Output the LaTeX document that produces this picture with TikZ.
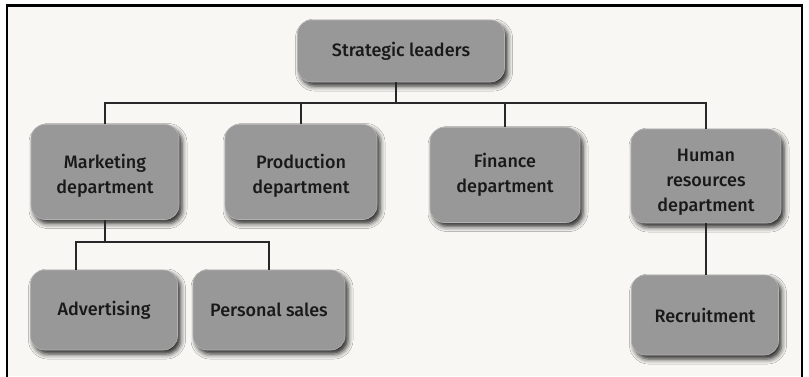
\documentclass[tikz,border=0pt]{standalone}
\usepackage{fontspec}
\setmainfont{Fira Sans}[UprightFont={* Medium}]
\usetikzlibrary{shadows.blur}
\definecolor{boxgray}{RGB}{152,152,152}
\definecolor{paper}{RGB}{248,247,243}
\definecolor{ink}{RGB}{25,25,25}
\definecolor{wire}{RGB}{40,40,40}
\tikzset{
  orgbox/.style={rounded corners=14pt, fill=boxgray, draw=boxgray!75!white, line width=0.6pt,
    blur shadow={shadow xshift=3pt, shadow yshift=-4pt, shadow blur radius=5pt, shadow opacity=85},
    text=ink, align=center, font=\fontsize{18}{25}\selectfont, inner sep=0pt},
  conn/.style={draw=wire, line width=1.1pt}
}
\begin{document}
\begin{tikzpicture}[x=1pt,y=-1pt]
\useasboundingbox (0,0) rectangle (809,376);
\fill[white] (0,0) rectangle (809,376);
\fill[paper] (8,6) rectangle (802,376);
\draw[black, line width=2.2pt] (7,378) -- (7,5.5) -- (802,5.5) -- (802,378);

\node[orgbox, minimum width=207pt, minimum height=62pt] (SL) at (401,51) {Strategic leaders};
\node[orgbox, minimum width=148pt, minimum height=95pt] (MK) at (105,172) {\rule{0pt}{22pt}Marketing\\department};
\node[orgbox, minimum width=152pt, minimum height=95pt] (PR) at (301,172) {\rule{0pt}{22pt}Production\\department};
\node[orgbox, minimum width=150pt, minimum height=95pt] (FI) at (505,175) {Finance\\department};
\node[orgbox, minimum width=150pt, minimum height=94pt] (HR) at (706,176) {\rule{0pt}{24pt}Human\\resources\\department};
\node[orgbox, minimum width=147pt, minimum height=80pt] (AD) at (104,310) {Advertising};
\node[orgbox, minimum width=152pt, minimum height=80pt] (PS) at (269,310) {Personal sales};
\node[orgbox, minimum width=147pt, minimum height=80pt] (RE) at (705,315) {Recruitment};

\coordinate (bus) at (0,103);
\coordinate (subbus) at (0,242);
\coordinate (adx) at (76,0);
\coordinate (slx) at (396,0);

\draw[conn] (SL.south -| slx) -- (slx |- bus);
\draw[conn] (MK.north) |- (HR.north |- bus) -- (HR.north);
\draw[conn] (PR.north) -- (PR.north |- bus);
\draw[conn] (FI.north) -- (FI.north |- bus);
\draw[conn] (MK.south) -- (MK.south |- subbus);
\draw[conn] (AD.north -| adx) |- (PS.north |- subbus) -- (PS.north);
\draw[conn] (HR.south) -- (HR.south |- RE.north);
\end{tikzpicture}
\end{document}
